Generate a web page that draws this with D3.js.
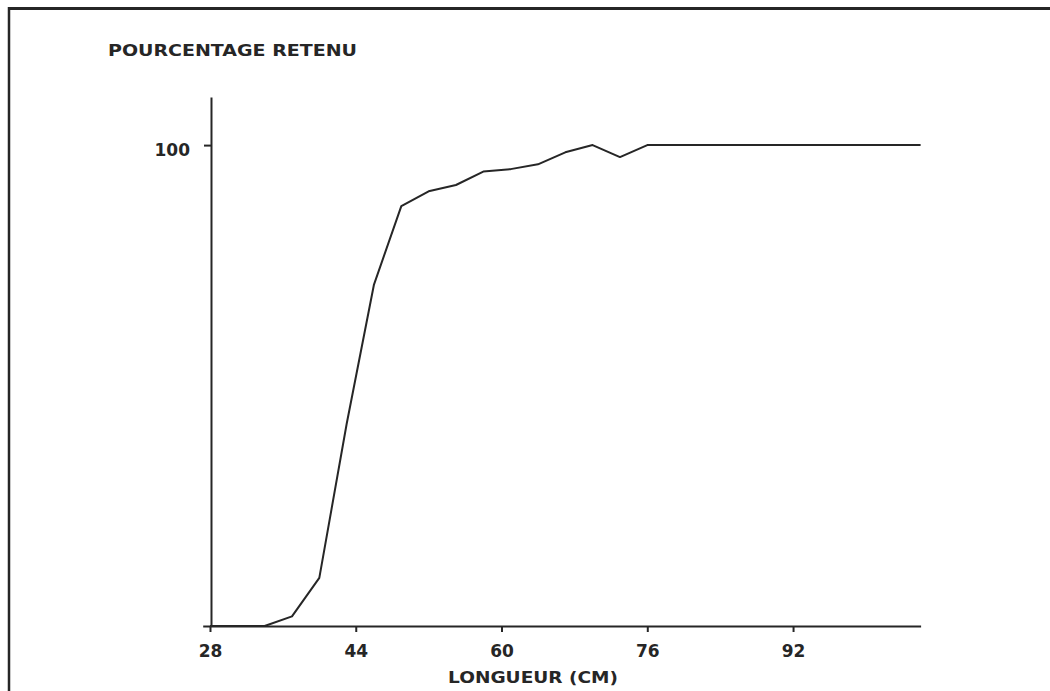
<!DOCTYPE html>
<html>
<head>
<meta charset="utf-8">
<script src="https://cdn.jsdelivr.net/npm/d3@7"></script>
<style>
  html, body { margin: 0; padding: 0; background: #fff; }
  svg { display: block; }
</style>
</head>
<body>
<svg id="chart" width="1050" height="691"></svg>
<script>
// ---- data ----
const lengths  = [28, 34, 37, 40, 43, 46, 49, 52, 55, 58, 61, 64, 67, 70, 73, 76, 106];
const retained = [0, 0, 2, 10, 42, 71, 87.3, 90.4, 91.7, 94.5, 95, 96, 98.5, 100, 97.5, 100, 100];
const xTicks = [28, 44, 60, 76, 92];
const yTicks = [100];
const yTitle = "POURCENTAGE RETENU";
const xTitle = "LONGUEUR (CM)";

const ink = "#262626";
const svg = d3.select("#chart");

// frame (scanned page border)
svg.append("line").attr("x1", 9).attr("x2", 9).attr("y1", 7).attr("y2", 691)
  .attr("stroke", ink).attr("stroke-width", 2.5);
svg.append("line").attr("x1", 8).attr("x2", 1050).attr("y1", 8.5).attr("y2", 8.5)
  .attr("stroke", ink).attr("stroke-width", 3);

// scales
const x = d3.scaleLinear().domain([27.2, 106]).range([202.7, 920.6]);
const y = d3.scaleLinear().domain([0, 110]).range([626, 97]);

const tickFont = "'DejaVu Sans', Verdana, sans-serif";

// x axis
const gx = svg.append("g").attr("transform", `translate(0,${y(0)})`)
  .call(d3.axisBottom(x).tickValues(xTicks).tickSize(6).tickSizeOuter(0).tickFormat(d3.format("d")));
gx.select(".domain").attr("stroke", ink).attr("stroke-width", 2);
gx.selectAll(".tick line").attr("stroke", ink).attr("stroke-width", 2);
gx.selectAll(".tick text")
  .attr("y", 31).attr("dy", null)
  .attr("fill", ink)
  .style("font-family", tickFont)
  .style("font-weight", "bold")
  .style("font-size", "17px");

// y axis
const gy = svg.append("g").attr("transform", `translate(${x(28) + 1},0)`)
  .call(d3.axisLeft(y).tickValues(yTicks).tickSize(7).tickPadding(14).tickSizeOuter(0).tickFormat(d3.format("d")));
gy.select(".domain").attr("stroke", ink).attr("stroke-width", 2);
gy.selectAll(".tick line").attr("stroke", ink).attr("stroke-width", 2);
gy.selectAll(".tick text")
  .attr("dy", "0.6em")
  .attr("fill", ink)
  .style("font-family", tickFont)
  .style("font-weight", "bold")
  .style("font-size", "17px");

// titles
svg.append("text").attr("x", 108).attr("y", 56)
  .attr("textLength", 249).attr("lengthAdjust", "spacingAndGlyphs")
  .attr("fill", ink)
  .style("font-family", "'DejaVu Sans', Verdana, sans-serif")
  .style("font-weight", "bold").style("font-size", "16px")
  .text(yTitle);

svg.append("text").attr("x", 448).attr("y", 683)
  .attr("textLength", 170).attr("lengthAdjust", "spacingAndGlyphs")
  .attr("fill", ink)
  .style("font-family", "'DejaVu Sans', Verdana, sans-serif")
  .style("font-weight", "bold").style("font-size", "16px")
  .text(xTitle);

// curve
const pts = lengths.map((l, i) => [l, retained[i]]);
svg.append("path").datum(pts)
  .attr("fill", "none").attr("stroke", ink).attr("stroke-width", 2)
  .attr("stroke-linejoin", "round")
  .attr("d", d3.line().x(d => x(d[0])).y(d => y(d[1])));
</script>
</body>
</html>
